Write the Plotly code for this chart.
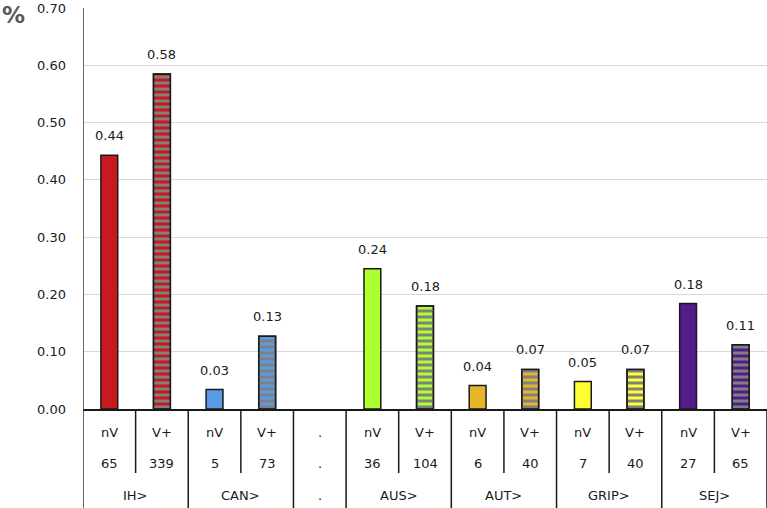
import plotly.graph_objects as go

# ---- data ----
groups = ["IH>", "CAN>", ".", "AUS>", "AUT>", "GRIP>", "SEJ>"]
group_sizes = [2, 2, 1, 2, 2, 2, 2]
sub_labels = ["nV", "V+", "nV", "V+", ".", "nV", "V+", "nV", "V+", "nV", "V+", "nV", "V+"]
counts = ["65", "339", "5", "73", ".", "36", "104", "6", "40", "7", "40", "27", "65"]
values = [0.443, 0.585, 0.034, 0.127, None, 0.245, 0.180, 0.041, 0.069, 0.048, 0.069, 0.184, 0.112]
value_labels = ["0.44", "0.58", "0.03", "0.13", "", "0.24", "0.18", "0.04", "0.07", "0.05", "0.07", "0.18", "0.11"]
colors = ["#C8191E", "#C8191E", "#5B9BE6", "#5B9BE6", "#FFFFFF", "#ADFF2F", "#ADFF2F",
          "#E6B52C", "#E6B52C", "#FFFF33", "#FFFF33", "#531C8C", "#531C8C"]
striped = [False, True, False, True, False, False, True, False, True, False, True, False, True]
y_ticks = [0.0, 0.1, 0.2, 0.3, 0.4, 0.5, 0.6, 0.7]

FONT = "DejaVu Sans"
TXT = dict(family=FONT, size=13, color="#1a1a1a")
n = len(sub_labels)
xs = list(range(n))

fig = go.Figure()
# solid coloured bars
fig.add_trace(go.Bar(
    x=xs, y=values, width=0.32,
    marker=dict(color=colors, line=dict(color="#1a1a1a", width=1.5)),
    hoverinfo="skip",
))
# grey horizontal stripes over the "V+" bars
fig.add_trace(go.Bar(
    x=xs, y=[v if s else None for v, s in zip(values, striped)], width=0.32,
    marker=dict(
        color="#808080",
        line=dict(color="#1a1a1a", width=1.5),
        pattern=dict(shape="-", fgcolor="#808080", bgcolor="rgba(0,0,0,0)",
                     fgopacity=1, size=6, solidity=0.5, fillmode="replace"),
    ),
    hoverinfo="skip",
))

# value labels above bars
for i, (v, t) in enumerate(zip(values, value_labels)):
    if v is None:
        continue
    fig.add_annotation(x=i, y=v, text=t, showarrow=False, xanchor="center", yanchor="bottom",
                       yshift=10, font=TXT)

# table below the axis (paper coordinates)
plot_h = 508 - 8 - 99
def py(px):
    return (409 - px) / plot_h

row1_y, row2_y, row3_y = py(432), py(463), py(495)
sub_bottom, table_bottom = py(473), py(512)

for i in range(n):
    fig.add_annotation(x=i, y=row1_y, xref="x", yref="paper", text=sub_labels[i],
                       xanchor="center", yanchor="middle", showarrow=False, font=TXT)
    fig.add_annotation(x=i, y=row2_y, xref="x", yref="paper", text=counts[i],
                       xanchor="center", yanchor="middle", showarrow=False, font=TXT)

# group labels and separators
start = 0
boundaries = [-0.5]
for g, sz in zip(groups, group_sizes):
    center = start + (sz - 1) / 2
    fig.add_annotation(x=center, y=row3_y, xref="x", yref="paper", text=g,
                       xanchor="center", yanchor="middle", showarrow=False, font=TXT)
    for k in range(1, sz):
        xb = start + k - 0.5
        fig.add_shape(type="line", x0=xb, x1=xb, y0=0, y1=sub_bottom, xref="x", yref="paper",
                      line=dict(color="#1a1a1a", width=1.5))
    start += sz
    boundaries.append(start - 0.5)

for xb in boundaries:
    top = 1 if xb == -0.5 else 0
    fig.add_shape(type="line", x0=xb, x1=xb, y0=top, y1=table_bottom, xref="x", yref="paper",
                  line=dict(color="#333333" if xb == -0.5 else "#1a1a1a", width=1.5))

# "%" label
fig.add_annotation(x=(13 - 83) / (767 - 83), y=py(15), xref="paper", yref="paper",
                   xanchor="center", yanchor="middle",
                   text="<b>%</b>", showarrow=False,
                   font=dict(family=FONT, size=23, color="#595959"))

fig.update_layout(
    width=767, height=508,
    margin=dict(l=83, r=0, t=8, b=99),
    paper_bgcolor="white", plot_bgcolor="white",
    showlegend=False, barmode="overlay",
    xaxis=dict(range=[-0.5, n - 0.5], showticklabels=False, showgrid=False, zeroline=False,
               showline=True, linecolor="#1a1a1a", linewidth=1.5, ticks=""),
    yaxis=dict(range=[0, 0.7], tickvals=y_ticks, ticktext=[f"{t:.2f}" for t in y_ticks],
               showgrid=True, gridcolor="#D9D9D9", gridwidth=1, zeroline=False,
               showline=False, ticks="", ticklabelstandoff=16, tickfont=TXT),
)

fig.write_html("out.html", config={"displayModeBar": False},
               post_script="document.body.style.margin='0px';document.body.style.overflow='hidden';")
